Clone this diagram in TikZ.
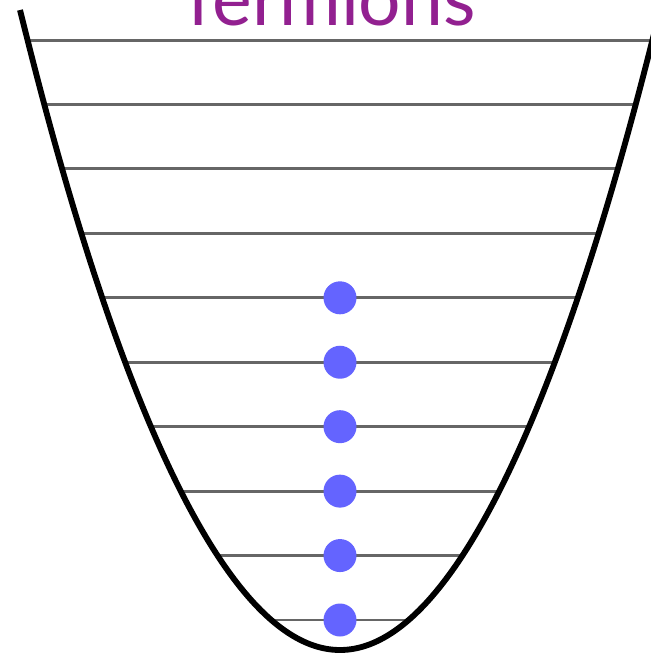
\documentclass[tikz,border=0pt]{standalone}
\usepackage{fontspec}
\setmainfont{Lato}
\usepackage{xcolor}
\usetikzlibrary{positioning}
\definecolor{fermpurple}{RGB}{146,32,144}
\definecolor{dotblue}{RGB}{100,100,255}

\begin{document}
\begin{tikzpicture}[
  x=0.03cm,
  y=-0.03cm,
  well/.style={draw=black, line width=5pt},
  level/.style={draw=black!60, line width=2.5pt},
  fermion/.style={circle, fill=dotblue, inner sep=0pt, minimum size=0.99cm},
  title/.style={font=\fontsize{64}{70}\selectfont, text=fermpurple, anchor=base}
]
\clip (0,0) rectangle (651,658);
\fill[white] (0,0) rectangle (651,658);
\node[title] (title) at (331.5,25) {fermions};
% energy levels of the trap
\foreach \n in {0,...,9} {
  \pgfmathsetmacro{\lev}{620-64.44*\n}
  \pgfmathsetmacro{\half}{10*sqrt(1.595*(650-\lev))}
  \coordinate (l\n) at ({340-\half},\lev);
  \coordinate (r\n) at ({340+\half},\lev);
  \draw[level] (l\n) -- (r\n);
}
\draw[well] (20,10) parabola bend (340,650) (660,10);
% filled levels
\foreach \n in {0,...,5}
  \node[fermion] (f\n) at (340,{620-64.44*\n}) {};
\end{tikzpicture}
\end{document}
